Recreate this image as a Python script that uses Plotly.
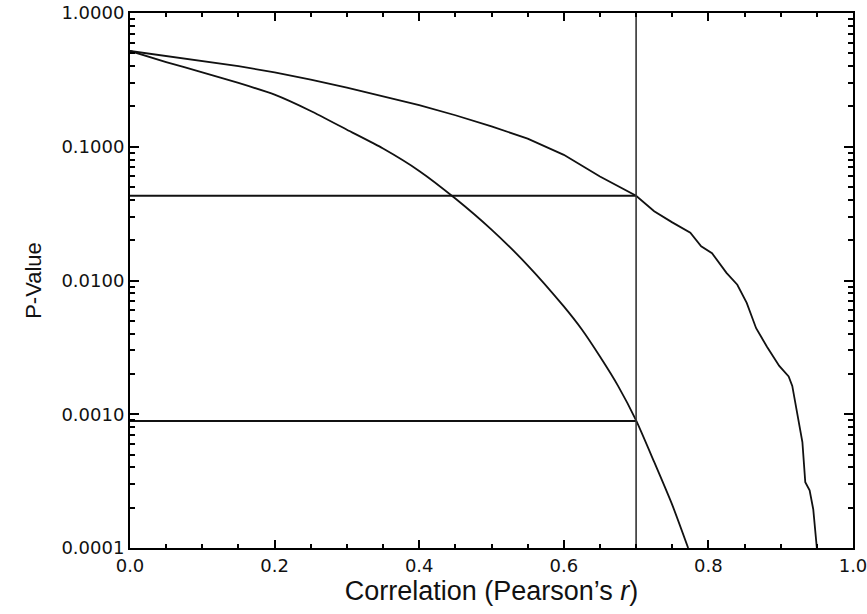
import plotly.graph_objects as go

# Lower (steeper) curve: correlation r vs p-value
r_a = [0.00, 0.05, 0.10, 0.15, 0.20, 0.25, 0.30, 0.35, 0.40, 0.45, 0.50, 0.55,
       0.60, 0.625, 0.65, 0.675, 0.70, 0.725, 0.75, 0.772]
p_a = [0.52, 0.43, 0.36, 0.30, 0.245, 0.185, 0.134, 0.097, 0.066, 0.041, 0.024, 0.013,
       0.0064, 0.0043, 0.0027, 0.00163, 0.00090, 0.00044, 0.00021, 0.0001]

# Upper (empirical) curve
r_b = [0.00, 0.05, 0.10, 0.15, 0.20, 0.25, 0.30, 0.35, 0.40, 0.45, 0.50, 0.55,
       0.60, 0.65, 0.70, 0.725, 0.75, 0.775, 0.79, 0.805, 0.825, 0.84, 0.853,
       0.866, 0.881, 0.898, 0.911, 0.916, 0.922, 0.927, 0.930, 0.934, 0.940,
       0.945, 0.948, 0.950]
p_b = [0.52, 0.475, 0.435, 0.40, 0.36, 0.318, 0.277, 0.238, 0.205, 0.172, 0.142, 0.115,
       0.087, 0.060, 0.043, 0.033, 0.0272, 0.0228, 0.018, 0.016, 0.0114, 0.0093, 0.0068,
       0.0044, 0.0032, 0.0023, 0.00192, 0.00163, 0.00109, 0.00077, 0.00062, 0.00031, 0.00027,
       0.000195, 0.00014, 0.0001]

# Reference lines
r_cut = 0.7
p_upper_cut = 0.043
p_lower_cut = 0.00089
y_range = [0.0001, 1.0]

x_tickvals = [0.0, 0.2, 0.4, 0.6, 0.8, 1.0]
x_ticktext = ["0.0", "0.2", "0.4", "0.6", "0.8", "1.0"]

line_col = "#111111"
fig = go.Figure()
fig.add_trace(go.Scatter(x=r_a, y=p_a, mode="lines", line=dict(color=line_col, width=1.8, shape="spline", smoothing=0.6)))
fig.add_trace(go.Scatter(x=r_b, y=p_b, mode="lines", line=dict(color=line_col, width=1.8)))
fig.add_trace(go.Scatter(x=[0, r_cut], y=[p_upper_cut, p_upper_cut], mode="lines", line=dict(color=line_col, width=1.8)))
fig.add_trace(go.Scatter(x=[0, r_cut], y=[p_lower_cut, p_lower_cut], mode="lines", line=dict(color=line_col, width=2.2)))
fig.add_trace(go.Scatter(x=[r_cut, r_cut], y=y_range, mode="lines", line=dict(color="#333333", width=1.6)))

tick_font = dict(family="DejaVu Sans", size=18, color="#111111")
fig.update_layout(
    width=867, height=614,
    margin=dict(l=130, r=14, t=13, b=66),
    paper_bgcolor="white", plot_bgcolor="white",
    showlegend=False,
    xaxis=dict(
        range=[0, 1], tickmode="array", tickvals=x_tickvals, ticktext=x_ticktext,
        ticks="inside", ticklen=8, tickwidth=1.5, tickcolor="black",
        showline=True, linecolor="black", linewidth=2, mirror="allticks",
        showgrid=False, zeroline=False, tickfont=tick_font, automargin=False,
        ticklabeloverflow="allow",
        minor=dict(dtick=0.05, ticks="inside", ticklen=4, tickwidth=1.5, tickcolor="black", showgrid=False),
        title=dict(text="Correlation (Pearson’s <i>r</i>)", font=dict(family="Liberation Sans", size=27, color="#111111"), standoff=1),
    ),
    yaxis=dict(
        type="log", range=[-4, 0], dtick=1, tickformat=".4f",
        ticks="inside", ticklen=9, tickwidth=1.5, tickcolor="black",
        showline=True, linecolor="black", linewidth=2, mirror="allticks",
        showgrid=False, zeroline=False, tickfont=tick_font, automargin=False,
        ticklabeloverflow="allow",
        minor=dict(dtick="D1", ticks="inside", ticklen=5, tickwidth=1.5, tickcolor="black", showgrid=False),
        title=dict(text="P-Value", font=dict(family="Liberation Sans", size=22, color="#111111"), standoff=14),
    ),
)
fig.write_html("out.html")
